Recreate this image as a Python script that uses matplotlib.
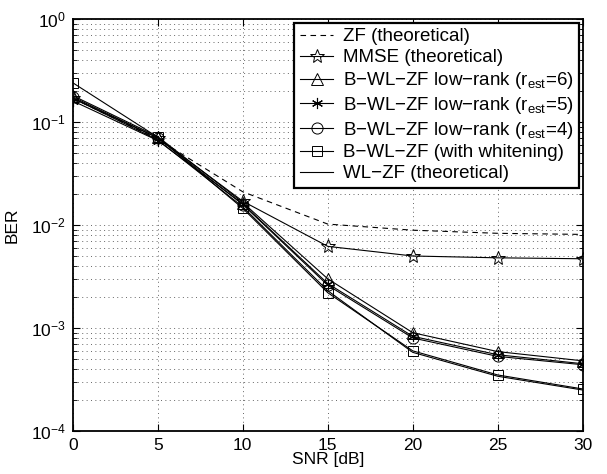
import numpy as np
import matplotlib
matplotlib.use("Agg")
import matplotlib.pyplot as plt
from matplotlib.ticker import LogLocator, NullFormatter

plt.rcParams['font.family'] = ['Liberation Sans', 'DejaVu Sans']
plt.rcParams['mathtext.fontset'] = 'custom'
plt.rcParams['mathtext.rm'] = 'Liberation Sans'
plt.rcParams['mathtext.it'] = 'Liberation Sans:italic'
plt.rcParams['mathtext.default'] = 'regular'

# Data
snr = [0, 5, 10, 15, 20, 25, 30]
ber_zf = [0.17, 0.068, 0.021, 0.0102, 0.0089, 0.0083, 0.0081]
ber_mmse = [0.17, 0.070, 0.017, 0.0062, 0.0050, 0.0048, 0.0047]
ber_r6 = [0.18, 0.072, 0.0165, 0.0030, 0.00090, 0.00059, 0.00048]
ber_r5 = [0.16, 0.066, 0.016, 0.0027, 0.00083, 0.00055, 0.00045]
ber_r4 = [0.175, 0.070, 0.0158, 0.0026, 0.00080, 0.00053, 0.00044]
ber_white = [0.24, 0.071, 0.0145, 0.0022, 0.00060, 0.00035, 0.000256]
ber_wlzf = [0.17, 0.067, 0.0150, 0.0023, 0.00058, 0.00034, 0.00025]

labels = [
    'ZF (theoretical)',
    'MMSE (theoretical)',
    'B\u2212WL\u2212ZF low\u2212rank (r$_{est}$=6)',
    'B\u2212WL\u2212ZF low\u2212rank (r$_{est}$=5)',
    'B\u2212WL\u2212ZF low\u2212rank (r$_{est}$=4)',
    'B\u2212WL\u2212ZF (with whitening)',
    'WL\u2212ZF (theoretical)',
]

fig = plt.figure(figsize=(6.07, 4.74), dpi=100)
ax = fig.add_axes([0.120, 0.0907, 0.840, 0.8693])

lw = 0.8
ms = 7
ax.semilogy(snr, ber_zf, color='black', lw=lw, dashes=(5, 4), label=labels[0])
ax.semilogy(snr, ber_mmse, '-', marker='*', color='black', lw=lw, ms=ms + 3,
            mfc='none', mew=0.7, label=labels[1])
ax.semilogy(snr, ber_r6, '-', marker='^', color='black', lw=lw, ms=ms + 2,
            mfc='none', mew=0.7, label=labels[2])
ax.semilogy(snr, ber_r5, '-', marker=(6, 2, 0), color='black', lw=lw, ms=ms + 1,
            mfc='none', mew=0.8, label=labels[3])
ax.semilogy(snr, ber_r4, '-', marker='o', color='black', lw=lw, ms=ms + 1,
            mfc='none', mew=0.7, label=labels[4])
ax.semilogy(snr, ber_white, '-', marker='s', color='black', lw=lw, ms=ms,
            mfc='none', mew=0.7, label=labels[5])
ax.semilogy(snr, ber_wlzf, '-', color='black', lw=lw, label=labels[6])

ax.set_xlim(0, 30)
ax.set_ylim(1e-4, 1)
ax.set_xticks([0, 5, 10, 15, 20, 25, 30])
ax.yaxis.set_major_locator(LogLocator(base=10, numticks=10))
ax.yaxis.set_minor_locator(LogLocator(base=10, subs=np.arange(2, 10), numticks=10))
ax.yaxis.set_minor_formatter(NullFormatter())

ax.grid(True, which='major', linestyle=(0, (1, 3.5)), color='#666666', lw=0.7)
ax.grid(True, which='minor', axis='y', linestyle=(0, (1, 3.5)), color='#666666', lw=0.7)
ax.tick_params(which='both', direction='in', top=True, right=True, labelsize=12.5)
ax.tick_params(which='major', length=5, pad=5)
ax.tick_params(which='minor', length=3)
for s in ax.spines.values():
    s.set_linewidth(1.3)

ax.set_xlabel('SNR [dB]', fontsize=12.5, labelpad=-1)
ax.set_ylabel('BER', fontsize=12.5, labelpad=8)

leg = ax.legend(loc='upper right', fontsize=13.5, handlelength=1.8, fancybox=False,
                framealpha=1, edgecolor='black', borderaxespad=0.2,
                labelspacing=0.2, borderpad=0.3, handletextpad=0.5)
leg.get_frame().set_linewidth(1.6)

fig.savefig('out.png', dpi=100)
